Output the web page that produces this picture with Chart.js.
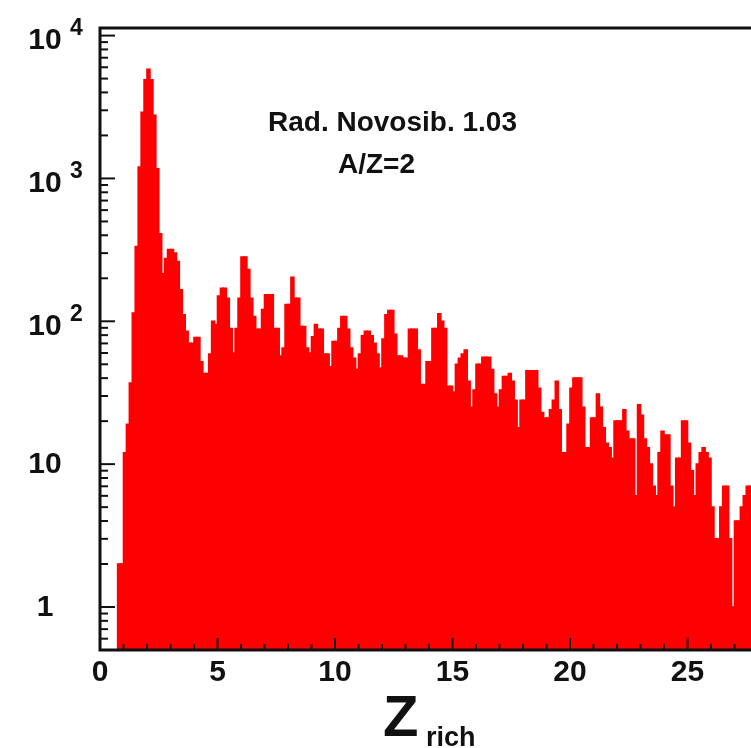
<!DOCTYPE html>
<html>
<head>
<meta charset="utf-8">
<script src="https://cdn.jsdelivr.net/npm/chart.js@4"></script>
<style>
html, body { margin: 0; padding: 0; background: #fff; overflow: hidden; }
#wrap { width: 830px; height: 748px; }
</style>
</head>
<body>
<div id="wrap"><canvas id="myChart" width="830" height="748"></canvas></div>
<script>
// histogram of Z_rich, bins of 0.125 starting at the first filled bin
const binStart = 0.75;
const binWidth = 0.125;
const counts = [
    2, 2,
    12, 19, 37, 114, 333, 1200, 2900, 4900,
    5800, 4900, 2770, 1170, 410, 215, 275, 318,
    318, 300, 262, 166, 111, 85, 70, 70,
    77, 77, 52, 43, 43, 59, 100, 95,
    150, 170, 170, 145, 89, 60, 89, 145,
    282, 282, 230, 145, 108, 88, 88, 121,
    153, 153, 153, 89, 89, 57, 65, 131,
    131, 203, 145, 145, 92, 92, 65, 60,
    78, 95, 88, 88, 59, 59, 48, 72,
    72, 89, 108, 108, 88, 65, 55, 46,
    59, 79, 85, 85, 79, 70, 59, 47,
    75, 111, 119, 119, 81, 57, 57, 55,
    55, 88, 88, 88, 63, 36, 36, 52,
    52, 89, 89, 113, 100, 89, 35, 35,
    32, 50, 55, 59, 63, 38, 25, 33,
    50, 50, 56, 56, 56, 46, 31, 25,
    33, 41, 41, 43, 38, 28, 18, 28,
    28, 45, 45, 45, 45, 34, 23, 21,
    21, 24, 28, 38, 24, 12, 12, 19,
    34, 40, 40, 40, 25, 13, 13, 21,
    21, 31, 25, 18, 14, 13, 11, 20,
    20, 20, 24, 17, 15, 15, 6, 26,
    22, 15, 13, 10, 7, 6, 12, 17,
    16, 16, 7, 5, 11, 11, 20, 20,
    14, 9, 6, 10, 12, 13, 12, 11,
    5, 3, 3, 5, 7, 7, 3, 1,
    4, 4, 5, 6, 7, 7, 7, 7
];
const xTickLabels = ['0', '5', '10', '15', '20', '25', '30'];
const yTickValues = [1, 10, 100, 1000, 10000];
const yTickBase = ['1', '10', '10', '10', '10'];
const yTickPower = ['', '', '2', '3', '4'];
const noteLines = ['Rad. Novosib. 1.03', 'A/Z=2'];
const axisTitle = ['Z', 'rich'];

const fontFamily = "'Liberation Sans', Arial, Helvetica, sans-serif";

const points = counts.map((c, i) => ({ x: binStart + (i + 0.5) * binWidth, y: c }));

// inner tick marks and the black frame, drawn over the bars
const frameAndTicks = {
    id: 'frameAndTicks',
    afterDatasetsDraw(chart) {
        const ctx = chart.ctx;
        const area = chart.chartArea;
        const xs = chart.scales.x;
        const ys = chart.scales.y;
        ctx.save();
        ctx.strokeStyle = '#111';
        ctx.lineWidth = 2;
        for (let d = -1; d <= 4; d++) {
            for (let m = 1; m <= 9; m++) {
                const v = m * Math.pow(10, d);
                if (v < ys.min || v > ys.max) continue;
                const y = ys.getPixelForValue(v);
                const len = m === 1 ? 15 : 8;
                ctx.beginPath();
                ctx.moveTo(area.left, y);
                ctx.lineTo(area.left + len, y);
                ctx.stroke();
            }
        }
        for (let z = 0; z <= 30; z++) {
            const x = xs.getPixelForValue(z);
            const len = z % 5 === 0 ? 12 : 6;
            ctx.beginPath();
            ctx.moveTo(x, area.bottom);
            ctx.lineTo(x, area.bottom - len);
            ctx.stroke();
        }
        ctx.lineWidth = 3;
        ctx.strokeRect(area.left, area.top, area.right - area.left, area.bottom - area.top);
        ctx.restore();
    }
};

// y labels with superscripts, the note and the axis title
const textLayer = {
    id: 'textLayer',
    afterDraw(chart) {
        const ctx = chart.ctx;
        const ys = chart.scales.y;
        ctx.save();
        ctx.fillStyle = '#111';
        ctx.textBaseline = 'middle';
        yTickValues.forEach((v, i) => {
            const y = ys.getPixelForValue(v);
            const power = yTickPower[i];
            ctx.font = 'bold 30px ' + fontFamily;
            ctx.textAlign = 'center';
            ctx.fillText(yTickBase[i], 45, power ? y + 5 : y + 1);
            if (power) {
                ctx.font = 'bold 23px ' + fontFamily;
                ctx.textAlign = 'left';
                ctx.fillText(power, 70, y - 7);
            }
        });

        ctx.textAlign = 'left';
        ctx.font = 'bold 28px ' + fontFamily;
        ctx.fillText(noteLines[0], 268, 123);
        ctx.fillText(noteLines[1], 338, 165);

        ctx.textBaseline = 'alphabetic';
        ctx.font = 'bold 58px ' + fontFamily;
        ctx.fillText(axisTitle[0], 383, 736);
        ctx.font = 'bold 27px ' + fontFamily;
        ctx.fillText(axisTitle[1], 426, 746);
        ctx.restore();
    }
};

const ctx = document.getElementById('myChart');
new Chart(ctx, {
    type: 'bar',
    data: {
        datasets: [{
            data: points,
            backgroundColor: '#ff0000',
            borderWidth: 0,
            inflateAmount: 0.8, // grow each bar a little so no seams show between bins
            barPercentage: 1,
            categoryPercentage: 1
        }]
    },
    options: {
        responsive: false,
        animation: false,
        devicePixelRatio: 1,
        layout: {
            padding: { left: 0, top: 28, right: 25, bottom: 0 }
        },
        plugins: {
            legend: { display: false },
            tooltip: { enabled: false }
        },
        scales: {
            x: {
                type: 'linear',
                min: 0,
                max: 30,
                offset: false,
                grid: { display: false, drawTicks: false },
                border: { display: false },
                ticks: {
                    stepSize: 5,
                    padding: 5,
                    color: '#111',
                    font: { size: 30, weight: 'bold', family: fontFamily },
                    callback: (v) => xTickLabels[v / 5]
                },
                afterFit: (scale) => { scale.height = 98; }
            },
            y: {
                type: 'logarithmic',
                min: 0.5,
                max: 11300,
                grid: { display: false },
                border: { display: false },
                ticks: { display: false },
                afterFit: (scale) => { scale.width = 100; }
            }
        }
    },
    plugins: [frameAndTicks, textLayer]
});
</script>
</body>
</html>
